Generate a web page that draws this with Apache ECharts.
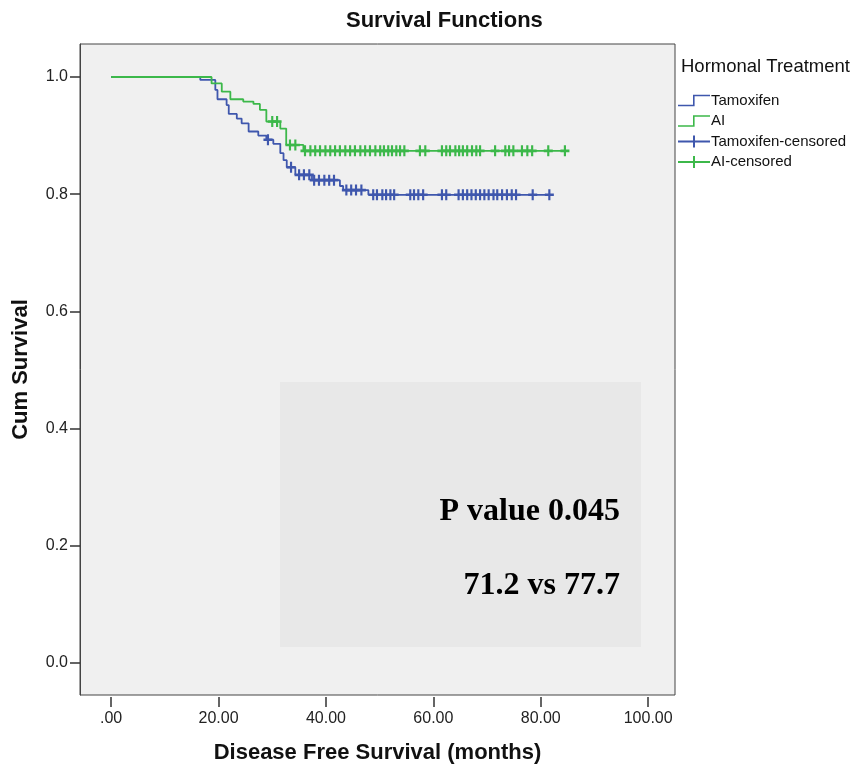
<!DOCTYPE html>
<html>
<head>
<meta charset="utf-8">
<script src="https://cdn.jsdelivr.net/npm/echarts@6/dist/echarts.min.js"></script>
<style>
html,body{margin:0;padding:0;background:#ffffff;}
#chart{width:859px;height:770px;}
</style>
</head>
<body>
<div id="chart"></div>
<script>
// ---- data ----
const xTicks = [0, 20, 40, 60, 80, 100];
const yTicks = [0, 0.2, 0.4, 0.6, 0.8, 1.0];

// Tamoxifen: event times and survival after each event
const tamoxTimes = [0, 16.6, 19.4, 19.8, 21.5, 21.9, 23.4, 24.3, 25.6, 27.4, 28.9, 30.2, 31.5, 32.1, 32.7, 34.3, 37.4, 42.6, 43.2, 47.9];
const tamoxSurv  = [1, 0.995, 0.978, 0.962, 0.952, 0.937, 0.929, 0.921, 0.907, 0.900, 0.893, 0.886, 0.870, 0.858, 0.846, 0.833, 0.824, 0.814, 0.807, 0.799];
const tamoxCensored = [29.2, 33.5, 35.0, 35.9, 36.9, 37.8, 38.7, 39.7, 40.6, 41.5, 43.8, 44.7, 45.6, 46.6, 48.8, 49.5, 50.5, 51.2, 52.0, 52.7, 55.7, 56.4, 57.2, 58.1, 61.6, 62.4, 64.7, 65.5, 66.3, 67.1, 67.9, 68.7, 69.5, 70.3, 71.2, 71.9, 72.8, 73.7, 74.6, 75.4, 78.5, 81.6];

// AI
const aiTimes = [0, 18.7, 20.6, 22.2, 24.6, 26.5, 27.7, 28.9, 31.5, 32.6, 35.8];
const aiSurv  = [1, 0.989, 0.975, 0.962, 0.958, 0.954, 0.944, 0.924, 0.912, 0.884, 0.874];
const aiCensored = [30.0, 30.9, 33.3, 34.3, 36.1, 37.1, 38.0, 38.9, 39.9, 40.8, 41.7, 42.6, 43.6, 44.5, 45.4, 46.4, 47.3, 48.2, 49.2, 50.1, 50.8, 51.6, 52.3, 53.1, 53.8, 54.6, 57.5, 58.5, 61.6, 62.4, 63.1, 64.1, 64.8, 65.5, 66.3, 67.2, 68.0, 68.7, 71.5, 73.4, 74.1, 74.9, 76.5, 77.5, 78.4, 81.4, 84.5];

const seriesNames = ['Tamoxifen', 'AI', 'Tamoxifen-censored', 'AI-censored'];
const annotationLines = ['P value 0.045', '71.2 vs 77.7'];

// ---- helpers ----
function survivalAt(times, surv, t) {
  let s = surv[0];
  for (let i = 0; i < times.length; i++) { if (times[i] <= t) s = surv[i]; }
  return s;
}
function stepData(times, surv, censored) {
  const d = times.map((t, i) => [t, surv[i]]);
  const last = censored[censored.length - 1];
  d.push([last, surv[surv.length - 1]]);
  return d;
}
function censorData(times, surv, censored) {
  return censored.map(t => [t, survivalAt(times, surv, t)]);
}

const BLUE = '#3f57ad';
const GREEN = '#3cb84a';
const FONT = '"Liberation Sans", Arial, sans-serif';
const plusPath = 'path://M3.8,0H6.2V3.8H10V6.2H6.2V10H3.8V6.2H0V3.8H3.8Z';
const stepIcon = 'path://M0,10H15V0H32V1.6H16.6V11.6H0Z';
const plusIcon = 'path://M15,0H17V5H32V7H17V12H15V7H0V5H15Z';

const chart = echarts.init(document.getElementById('chart'), null, {renderer: 'canvas'});
const option = {
  animation: false,
  backgroundColor: '#ffffff',
  grid: {
    left: 80, top: 44, right: 184, bottom: 75,
    show: true, backgroundColor: '#f0f0f0', borderColor: '#444444', borderWidth: 1,
    containLabel: false, outerBoundsMode: 'none'
  },
  legend: {
    orient: 'vertical', left: 678, top: 93, padding: 0,
    itemWidth: 32, itemHeight: 12, itemGap: 5.5,
    textStyle: {fontFamily: FONT, fontSize: 15, color: '#111111', padding: [0, 0, 0, -4]},
    data: [
      {name: seriesNames[0], icon: stepIcon},
      {name: seriesNames[1], icon: stepIcon},
      {name: seriesNames[2], icon: plusIcon},
      {name: seriesNames[3], icon: plusIcon}
    ]
  },
  xAxis: {
    type: 'value', min: -5.8, max: 105, offset: 2,
    name: 'Disease Free Survival (months)', nameLocation: 'middle', nameGap: 45,
    nameTextStyle: {fontFamily: FONT, fontSize: 22, fontWeight: 'bold', color: '#111111'},
    axisLine: {show: true, onZero: false, lineStyle: {color: 'rgba(0,0,0,0)'}},
    axisTick: {show: true, length: 10, customValues: xTicks, lineStyle: {color: '#333333', width: 1.5}},
    axisLabel: {customValues: xTicks, fontFamily: FONT, fontSize: 16, color: '#222222', margin: 14,
      formatter: v => v === 0 ? '.00' : v.toFixed(2)},
    splitLine: {show: false}
  },
  yAxis: {
    type: 'value', min: -0.0546, max: 1.0563,
    name: 'Cum Survival', nameLocation: 'middle', nameGap: 48, nameRotate: 90,
    nameTextStyle: {fontFamily: FONT, fontSize: 22, fontWeight: 'bold', color: '#111111'},
    axisLine: {show: true, onZero: false, lineStyle: {color: '#444444'}},
    axisTick: {show: true, length: 10, customValues: yTicks, lineStyle: {color: '#333333', width: 1.5}},
    axisLabel: {customValues: yTicks, fontFamily: FONT, fontSize: 16, color: '#222222', margin: 12,
      formatter: v => v.toFixed(1)},
    splitLine: {show: false}
  },
  graphic: [
    {type: 'text', left: 446 - 100, top: 10, z: 10,
      style: {text: 'Survival Functions', font: 'bold 22px ' + FONT, fill: '#111111', width: 200, align: 'center'}},
    {type: 'text', x: 681, y: 57, z: 10,
      style: {text: 'Hormonal Treatment', font: '18.5px ' + FONT, fill: '#111111'}},
    {type: 'rect', shape: {x: 280, y: 382, width: 361, height: 265}, z: 1,
      style: {fill: '#e8e8e8'}},
    {type: 'text', x: 620, y: 496, z: 10,
      style: {text: annotationLines[0], font: 'bold 32px "Liberation Serif", "Times New Roman", serif',
        fill: '#000000', align: 'right', verticalAlign: 'alphabetic'}},
    {type: 'text', x: 620, y: 570, z: 10,
      style: {text: annotationLines[1], font: 'bold 32px "Liberation Serif", "Times New Roman", serif',
        fill: '#000000', align: 'right', verticalAlign: 'alphabetic'}}
  ],
  series: [
    {name: seriesNames[0], type: 'line', step: 'end', symbol: 'none', z: 3,
      data: stepData(tamoxTimes, tamoxSurv, tamoxCensored),
      itemStyle: {color: BLUE}, lineStyle: {color: BLUE, width: 1.8}},
    {name: seriesNames[1], type: 'line', step: 'end', symbol: 'none', z: 4,
      data: stepData(aiTimes, aiSurv, aiCensored),
      itemStyle: {color: GREEN}, lineStyle: {color: GREEN, width: 1.8}},
    {name: seriesNames[2], type: 'scatter', symbol: plusPath, symbolSize: [9, 11], z: 5,
      data: censorData(tamoxTimes, tamoxSurv, tamoxCensored),
      itemStyle: {color: BLUE, opacity: 1}},
    {name: seriesNames[3], type: 'scatter', symbol: plusPath, symbolSize: [9, 11], z: 6,
      data: censorData(aiTimes, aiSurv, aiCensored),
      itemStyle: {color: GREEN, opacity: 1}}
  ]
};
chart.setOption(option);
</script>
</body>
</html>
